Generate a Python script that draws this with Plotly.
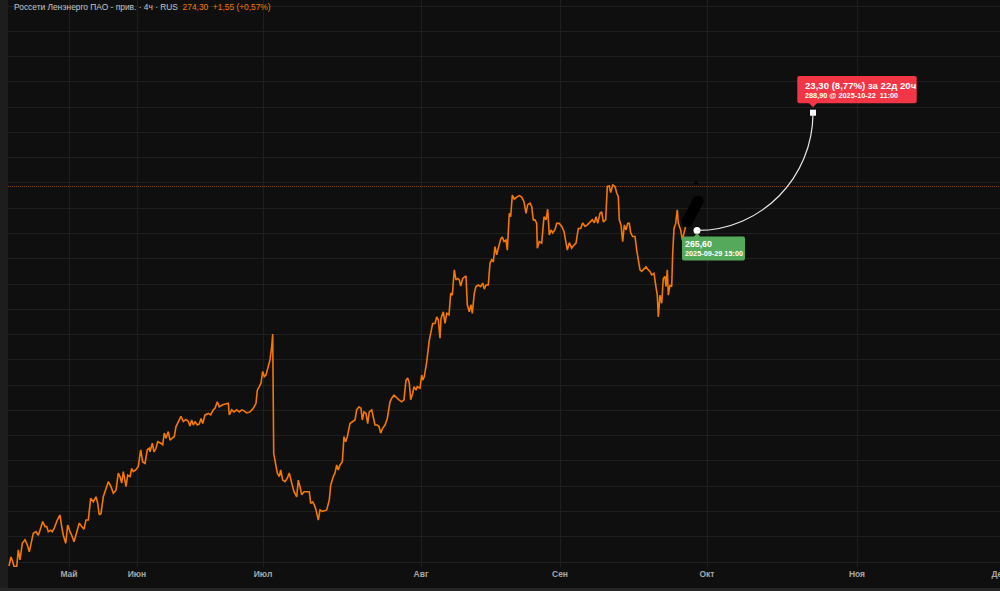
import plotly.graph_objects as go

# ---- data (bar index on a 4h chart, close price) ----
bars = [1.0, 3.0, 4.7, 6.0, 8.7, 10.3, 12.0, 14.3, 17.0, 19.3, 21.3, 23.7, 25.3, 28.0, 30.3, 32.0, 34.7, 37.0, 38.7, 40.3,
        42.7, 44.3, 46.3, 49.3, 52.0, 53.7, 55.3, 57.7, 59.7, 62.0, 63.7, 66.0, 68.7, 71.3, 73.7, 76.0, 78.0, 80.3, 82.7, 85.3,
        88.0, 89.7, 91.3, 93.0, 95.3, 98.0, 100.3, 103.0, 105.3, 108.0, 110.3, 112.0, 113.7, 115.3, 118.0, 119.7, 122.0, 123.7, 125.3, 127.7,
        130.3, 132.7, 134.7, 137.0, 139.3, 141.3, 142.0, 144.3, 146.0, 148.0, 149.7, 152.7, 154.7, 156.3, 158.0, 160.3, 162.0, 164.3, 166.3, 168.0,
        170.3, 173.0, 175.3, 178.0, 180.3, 182.0, 183.7, 185.3, 187.0, 189.3, 191.3, 193.0, 194.7, 197.0, 200.3, 202.7, 205.3, 207.0, 209.3, 211.3,
        214.7, 218.7, 220.3, 221.3, 223.7, 226.0, 228.7, 231.3, 233.7, 236.0, 238.7, 242.0, 245.3, 248.0, 249.3, 251.3, 253.0, 254.7, 256.3, 258.0,
        260.3, 262.0, 263.7, 264.7, 265.7, 267.7, 269.3, 271.3, 272.7, 274.7, 277.0, 279.3, 281.3, 283.7, 286.0, 288.7, 290.3, 292.0, 293.7, 296.0,
        298.7, 301.3, 302.7, 304.7, 306.3, 308.0, 310.3, 312.0, 314.7, 318.7, 321.3, 322.7, 325.3, 327.0, 328.7, 330.3, 332.0, 334.3, 336.0, 337.7,
        339.3, 342.0, 344.7, 347.0, 348.7, 351.0, 353.0, 354.3, 356.0, 358.0, 359.7, 361.3, 363.7, 365.3, 367.0, 369.3, 371.0, 372.7, 374.7, 377.0,
        379.3, 382.0, 383.7, 386.0, 388.7, 391.0, 393.7, 396.0, 398.0, 399.7, 401.3, 402.7, 404.7, 406.0, 408.0, 409.3, 412.0, 413.7, 414.7, 416.3,
        418.7, 420.3, 421.3, 424.7, 427.0, 428.7, 430.3, 432.0, 433.0, 435.3, 437.0, 438.7, 441.0, 442.7, 444.3, 446.3, 448.0, 449.7, 451.3, 452.7,
        454.7, 458.0, 459.3, 461.3, 463.0, 464.3, 466.3, 468.0, 470.3, 472.7, 474.7, 476.3, 478.0, 480.3, 482.0, 483.7, 485.3, 487.0, 488.7, 490.3,
        492.7, 494.3, 496.0, 498.0, 499.3, 501.3, 502.7, 504.3, 506.3, 508.7, 511.3, 513.7, 516.0, 518.0, 519.7, 522.0, 523.7, 525.3, 527.0, 528.7,
        529.3, 531.3, 533.7, 536.0, 538.0, 539.7, 541.3, 543.0, 544.7, 547.0, 548.7, 551.3, 553.7, 556.0, 558.0, 559.3, 561.3, 563.7, 566.0, 568.0,
        570.3, 572.7, 574.7, 577.0, 579.3, 582.0, 584.3, 586.3, 588.0, 589.7, 592.0, 593.7, 595.3, 597.7, 599.3, 601.3, 602.7, 604.7, 607.0, 608.7,
        610.3, 611.3, 613.0, 614.7, 616.3, 618.0, 619.7, 621.3, 622.7, 624.7, 627.0, 628.7, 630.3, 632.0, 633.7, 635.3, 638.0, 640.3, 642.0, 643.7,
        646.0, 647.7, 649.3, 650.3, 652.0, 653.7, 655.3, 657.0, 658.0, 659.3, 660.3, 662.0, 663.7, 664.7, 666.0, 667.7, 669.3, 670.3, 672.7, 674.3,
        676.0, 678.0]

close = [199.2, 201.0, 200.1, 199.1, 199.1, 202.4, 200.4, 203.7, 204.4, 203.4, 202.0, 204.4, 205.7, 206.0, 205.3, 206.3, 208.0, 207.0, 207.0, 206.0,
         206.3, 206.0, 206.7, 208.3, 209.3, 207.0, 205.3, 203.7, 207.3, 206.0, 205.3, 204.0, 206.0, 207.7, 207.0, 206.5, 208.3, 208.3, 212.6, 211.9,
         212.9, 211.6, 209.3, 209.6, 212.9, 214.6, 215.9, 214.9, 213.6, 214.2, 217.6, 216.9, 215.6, 217.9, 214.9, 217.2, 216.9, 218.5, 217.9, 218.2,
         218.9, 222.2, 219.8, 219.5, 222.2, 222.5, 221.8, 223.5, 221.8, 222.5, 223.8, 223.5, 223.2, 225.5, 224.5, 225.8, 224.1, 224.5, 224.8, 226.8,
         227.8, 228.8, 227.8, 228.2, 227.8, 226.9, 228.1, 227.1, 227.8, 227.1, 227.3, 228.4, 227.4, 229.1, 229.4, 229.1, 230.1, 230.4, 231.7, 230.7,
         231.1, 231.4, 231.4, 229.1, 230.1, 229.7, 230.1, 229.7, 230.1, 229.9, 229.5, 229.7, 230.4, 231.4, 234.0, 234.7, 235.4, 237.7, 236.7, 237.0,
         239.0, 240.0, 242.6, 245.1, 221.5, 219.5, 217.6, 216.9, 218.2, 216.2, 215.9, 216.6, 217.6, 215.6, 213.9, 212.9, 216.2, 214.9, 213.3, 213.9,
         213.9, 213.9, 211.6, 211.9, 211.3, 210.3, 208.3, 210.3, 210.0, 210.3, 212.3, 215.2, 216.9, 217.6, 219.2, 218.2, 219.2, 219.8, 224.8, 223.8,
         224.8, 227.4, 227.8, 228.1, 230.1, 230.7, 230.4, 228.1, 229.7, 229.4, 227.4, 229.7, 230.1, 228.8, 227.1, 227.1, 226.8, 225.5, 226.5, 227.1,
         228.4, 231.7, 232.4, 233.0, 232.4, 232.1, 231.7, 232.1, 236.0, 236.4, 235.4, 232.1, 233.4, 234.7, 234.0, 234.7, 234.4, 237.0, 236.0, 236.7,
         239.6, 243.3, 243.9, 247.2, 247.2, 248.5, 247.9, 244.3, 248.2, 249.5, 247.2, 249.2, 248.9, 253.2, 252.8, 257.8, 255.8, 256.1, 255.8, 254.6,
         256.1, 256.6, 250.9, 249.5, 250.9, 249.2, 253.2, 254.5, 254.8, 254.5, 255.2, 254.0, 254.8, 254.8, 259.1, 259.8, 259.4, 262.4, 260.8, 262.1,
         263.9, 264.3, 263.4, 263.7, 261.7, 269.0, 268.3, 272.6, 271.8, 272.2, 272.5, 272.2, 271.3, 269.0, 270.7, 271.0, 270.3, 267.7, 267.7, 267.0,
         262.1, 263.4, 263.1, 268.3, 267.7, 269.8, 264.7, 265.7, 265.1, 265.8, 267.0, 267.0, 266.4, 265.4, 263.4, 261.7, 263.2, 262.1, 262.7, 263.1,
         266.0, 266.0, 267.1, 266.4, 266.7, 267.3, 267.7, 267.1, 268.3, 267.0, 269.0, 269.3, 267.3, 267.7, 274.3, 274.4, 273.1, 274.6, 274.3, 273.0,
         272.3, 267.7, 266.7, 263.4, 266.7, 265.7, 267.0, 267.0, 265.1, 264.4, 264.4, 261.7, 260.1, 257.8, 257.5, 257.8, 258.4, 257.8, 257.5, 256.8,
         257.1, 254.8, 252.8, 248.5, 252.8, 251.2, 256.1, 256.5, 254.5, 257.8, 252.8, 254.8, 254.5, 261.1, 266.0, 267.0, 269.7, 267.0, 265.7, 263.7,
         265.4, 266.7]

month_bars = [61, 129, 255, 413, 552, 699, 849, 991]
month_labels = ["Май", "Июн", "Июл", "Авг", "Сен", "Окт", "Ноя", "Дек"]

last_price = 274.30
start_bar, start_price = 689, 265.60
target_bar, target_price = 805, 288.90
brush_bars = [679, 690]
brush_prices = [267.3, 271.4]
mark_bar, mark_price = 688, 275.0

ORANGE = "#f57800"
BG = "#0f0f0f"
GRID = "#1f1f1f"

fig = go.Figure()

fig.add_trace(go.Scatter(x=bars, y=close, mode="lines",
                         line=dict(color=ORANGE, width=1.6), hoverinfo="skip"))

# black brush stroke covering the tail
fig.add_trace(go.Scatter(x=brush_bars, y=brush_prices, mode="lines+markers",
                         line=dict(color="#000000", width=11),
                         marker=dict(color="#000000", size=11), hoverinfo="skip"))
fig.add_trace(go.Scatter(x=[mark_bar], y=[mark_price], mode="markers",
                         marker=dict(color="#000000", size=5, symbol="triangle-up"), hoverinfo="skip"))

# projection curve (quarter ellipse)
k = 0.5523
dx = target_bar - start_bar
dy = target_price - start_price
curve = (f"M {start_bar},{start_price} "
         f"C {start_bar + k * dx},{start_price} {target_bar},{target_price - k * dy} {target_bar},{target_price}")

shapes = [
    # left strip
    dict(type="rect", xref="paper", yref="paper", x0=-8 / 992, x1=0, y0=-24 / 567, y1=1,
         fillcolor="#1d1d1d", line_width=0, layer="below"),
    # bottom strip
    dict(type="rect", xref="paper", yref="paper", x0=-8 / 992, x1=1, y0=-24 / 567, y1=-21 / 567,
         fillcolor="#262626", line_width=0, layer="below"),
    # last price dotted line
    dict(type="line", xref="paper", yref="y", x0=0, x1=1, y0=last_price, y1=last_price,
         line=dict(color="rgba(245,120,0,0.5)", width=1, dash="1px,1px")),
    dict(type="path", xref="x", yref="y", path=curve, line=dict(color="#e8e8e8", width=1.2)),
    # green label box
    dict(type="path", xref="x", yref="y", xsizemode="pixel", ysizemode="pixel",
         xanchor=start_bar, yanchor=start_price,
         path="M -13,-6 L -3,-6 L 0,-2.5 L 3,-6 L 46,-6 Q 48,-6 48,-8 L 48,-28 Q 48,-30 46,-30 "
              "L -13,-30 Q -15,-30 -15,-28 L -15,-8 Q -15,-6 -13,-6 Z",
         fillcolor="#55a95a", line_width=0),
    # red label box
    dict(type="path", xref="x", yref="y", xsizemode="pixel", ysizemode="pixel",
         xanchor=target_bar, yanchor=target_price,
         path="M -13.7,9.5 L -4,9.5 L 0,5.5 L 4,9.5 L 101.7,9.5 Q 103.7,9.5 103.7,11.5 L 103.7,34.8 "
              "Q 103.7,36.8 101.7,36.8 L -13.7,36.8 Q -15.7,36.8 -15.7,34.8 L -15.7,11.5 Q -15.7,9.5 -13.7,9.5 Z",
         fillcolor="#f23645", line_width=0),
]

fig.add_trace(go.Scatter(x=[start_bar], y=[start_price], mode="markers",
                         marker=dict(color="#ffffff", size=7), hoverinfo="skip"))
fig.add_trace(go.Scatter(x=[target_bar], y=[target_price], mode="markers",
                         marker=dict(color="#ffffff", size=6, symbol="square"), hoverinfo="skip"))

FONT = "Liberation Sans"
annotations = [
    dict(xref="paper", yref="paper", x=0, y=1, xanchor="left", yanchor="middle", xshift=4, yshift=-7,
         showarrow=False, align="left",
         text="Россети Ленэнерго ПАО - прив. · 4ч · RUS  "
              f"<span style='color:{ORANGE}'>274,30  +1,55 (+0,57%)</span>",
         font=dict(family=FONT, size=8.4, color="#c4c4c4")),
    dict(xref="x", yref="y", x=start_bar, y=start_price, xanchor="left", yanchor="middle",
         xshift=-14, yshift=-13.5, showarrow=False, text="265,60",
         font=dict(family=FONT, size=8.8, color="#ffffff", weight="bold")),
    dict(xref="x", yref="y", x=start_bar, y=start_price, xanchor="left", yanchor="middle",
         xshift=-14, yshift=-23.5, showarrow=False, text="2025-09-29 15:00",
         font=dict(family=FONT, size=7.3, color="#ffffff", weight="bold")),
    dict(xref="x", yref="y", x=target_bar, y=target_price, xanchor="left", yanchor="middle",
         xshift=-10, yshift=27, showarrow=False, text="23,30 (8,77%) за 22д 20ч",
         font=dict(family=FONT, size=9.6, color="#ffffff", weight="bold")),
    dict(xref="x", yref="y", x=target_bar, y=target_price, xanchor="left", yanchor="middle",
         xshift=-10, yshift=16.8, showarrow=False, text="288,90 @ 2025-10-22  11:00",
         font=dict(family=FONT, size=7.3, color="#ffffff", weight="bold")),
]

fig.update_layout(
    width=1000, height=591,
    margin=dict(l=8, r=0, t=0, b=24, autoexpand=False),
    paper_bgcolor=BG, plot_bgcolor=BG,
    showlegend=False,
    shapes=shapes, annotations=annotations,
    xaxis=dict(range=[0, 992], tickmode="array", tickvals=month_bars, ticktext=month_labels,
               showgrid=True, gridcolor=GRID, gridwidth=1, zeroline=False, showline=False,
               ticks="", ticklabeloverflow="allow", automargin=False,
               tickfont=dict(family=FONT, size=8.5, color="#a8a8a8", weight="bold")),
    yaxis=dict(range=[199.01, 311.2], tick0=200, dtick=5, showgrid=True, gridcolor=GRID,
               zeroline=False, showline=False, showticklabels=False, ticks="", automargin=False),
)

fig.write_html("out.html")
